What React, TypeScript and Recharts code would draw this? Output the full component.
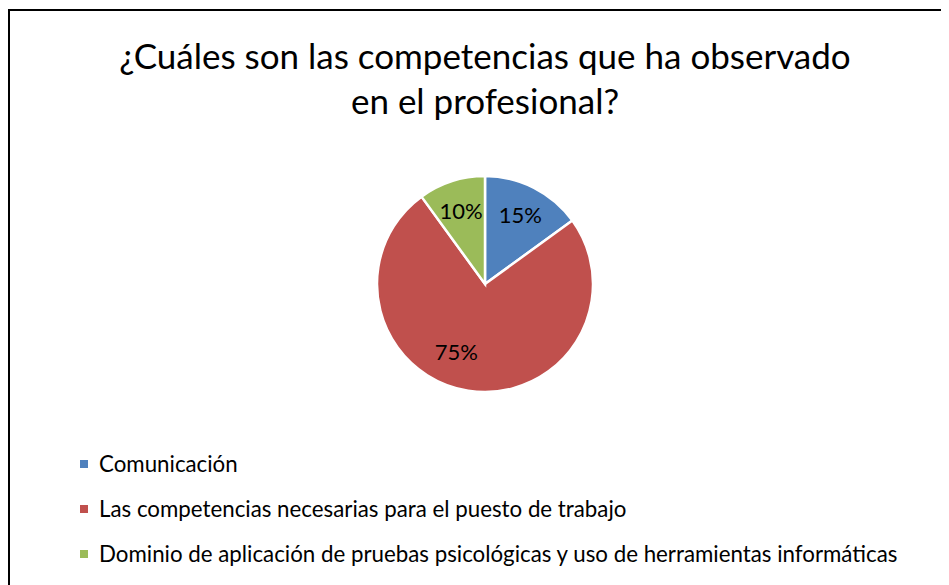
import React from "react";
import { PieChart, Pie, Cell } from "recharts";

const categories = [
  "Comunicación",
  "Las competencias necesarias para el puesto de trabajo",
  "Dominio de aplicación de pruebas psicológicas y uso de herramientas informáticas",
];
const values = [15, 75, 10];
const colors = ["#4F81BD", "#C0504D", "#9BBB59"];
const titleLines = ["¿Cuáles son las competencias que ha observado", "en el profesional?"];

const data = categories.map((name, i) => ({ name, value: values[i] }));
const total = values.reduce((a, b) => a + b, 0);
const FONT = "Lato, 'Open Sans', sans-serif";
const RAD = Math.PI / 180;

const renderLabel = (p: any) => {
  const { cx, cy, midAngle, outerRadius, index, value } = p;
  // large slice label in Excel is pulled a little toward the slice start
  const ang = index === 1 ? midAngle - 14 : midAngle;
  const r = outerRadius * (index === 1 ? 0.68 : 0.72);
  const x = cx + r * Math.cos(-ang * RAD);
  const y = cy + r * Math.sin(-ang * RAD);
  return (
    <text x={x} y={y} fill="#000" fontSize={22} fontFamily={FONT} textAnchor="middle" dominantBaseline="central">
      {`${Math.round((value / total) * 100)}%`}
    </text>
  );
};

export default function App() {
  return (
    <div
      style={{
        position: "relative",
        top: 1,
        width: 960,
        height: 600,
        border: "2px solid #000",
        boxSizing: "border-box",
        background: "#fff",
        overflow: "hidden",
      }}
    >
      <div
        style={{
          position: "absolute",
          left: 0,
          top: 22,
          width: 950,
          textAlign: "center",
          fontFamily: FONT,
          fontSize: 35,
          lineHeight: "45px",
          color: "#000",
        }}
      >
        {titleLines.map((t) => (
          <div key={t}>{t}</div>
        ))}
      </div>
      <div style={{ position: "absolute", left: 0, top: 0 }}>
        <PieChart width={956} height={420} margin={{ top: 0, right: 0, bottom: 0, left: 0 }}>
          <Pie
            data={data}
            dataKey="value"
            nameKey="name"
            cx={475}
            cy={273}
            outerRadius={108}
            startAngle={90}
            endAngle={-270}
            stroke="#fff"
            strokeWidth={2.5}
            label={renderLabel}
            labelLine={false}
            isAnimationActive={false}
          >
            {data.map((d, i) => (
              <Cell key={d.name} fill={colors[i]} />
            ))}
          </Pie>
        </PieChart>
      </div>
      <div
        style={{
          position: "absolute",
          left: 70,
          top: 430,
          fontFamily: FONT,
          fontSize: 22.3,
          color: "#000",
        }}
      >
        {categories.map((c, i) => (
          <div key={c} style={{ display: "flex", alignItems: "center", height: 45, whiteSpace: "nowrap" }}>
            <span style={{ display: "inline-block", width: 8, height: 8, background: colors[i], marginRight: 11 }} />
            <span>{c}</span>
          </div>
        ))}
      </div>
    </div>
  );
}
